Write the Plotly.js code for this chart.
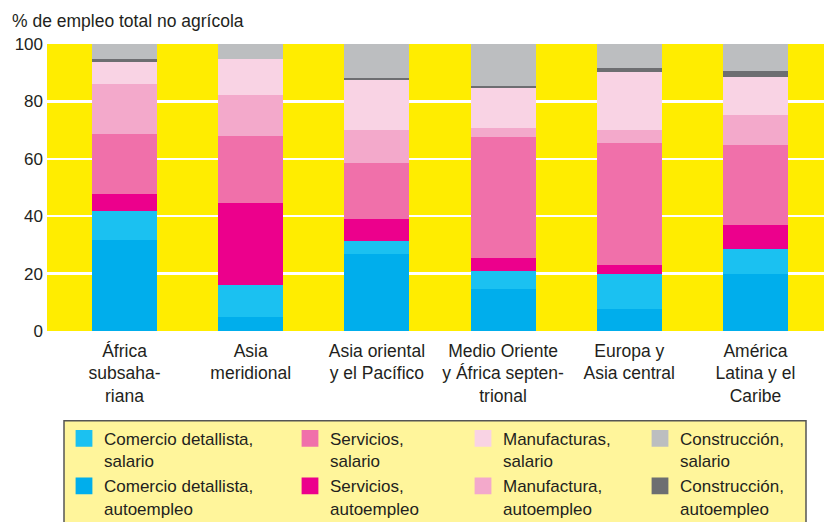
<!DOCTYPE html>
<html>
<head>
<meta charset="utf-8">
<script src="https://cdn.plot.ly/plotly-3.0.1.min.js"></script>
<style>
html,body{margin:0;padding:0;background:#fff;}
#chart{width:824px;height:522px;}
</style>
</head>
<body>
<div id="chart"></div>
<script>
// ---- data ----
const categories = [
  "África<br>subsaha-<br>riana",
  "Asia<br>meridional",
  "Asia oriental<br>y el Pacífico",
  "Medio Oriente<br>y África septen-<br>trional",
  "Europa y<br>Asia central",
  "América<br>Latina y el<br>Caribe"
];
const comercioAutoempleo     = [31.8, 4.8, 26.9, 14.7, 7.7, 19.9];
const comercioSalario        = [10.1, 11.3, 4.5, 6.2, 12.1, 8.6];
const serviciosAutoempleo    = [5.9, 28.5, 7.7, 4.5, 3.1, 8.3];
const serviciosSalario       = [21.0, 23.2, 19.6, 42.3, 42.7, 28.1];
const manufacturaAutoempleo  = [17.3, 14.6, 11.5, 3.0, 4.3, 10.2];
const manufacturasSalario    = [7.6, 12.3, 17.4, 14.0, 20.5, 13.4];
const construccionAutoempleo = [1.1, 0.0, 0.6, 0.8, 1.2, 2.2];
const construccionSalario    = [5.2, 5.3, 11.8, 14.5, 8.4, 9.3];
const yTickVals = [0, 20, 40, 60, 80, 100];
const yTickText = ["0", "20", "40", "60", "80", "100"];
const yTitle = "% de empleo total no agrícola";

const seriesNames = [
  "Comercio detallista,<br>autoempleo",
  "Comercio detallista,<br>salario",
  "Servicios,<br>autoempleo",
  "Servicios,<br>salario",
  "Manufactura,<br>autoempleo",
  "Manufacturas,<br>salario",
  "Construcción,<br>autoempleo",
  "Construcción,<br>salario"
];
const seriesValues = [comercioAutoempleo, comercioSalario, serviciosAutoempleo, serviciosSalario,
  manufacturaAutoempleo, manufacturasSalario, construccionAutoempleo, construccionSalario];

// ---- styles ----
const colors = ["#00AEEC", "#1BC1F1", "#EC008C", "#F070AA", "#F3A9CB", "#F9D3E4", "#6D6E71", "#BCBEC0"];
// legend slot per series (salario on first row, autoempleo on second)
const legendIds = ["legend5", "legend", "legend6", "legend2", "legend7", "legend3", "legend8", "legend4"];

const FONT = "'Liberation Sans', Arial, sans-serif";
const TXT = "#231F20";
const FS = 17;

const W = 824, H = 522, ML = 47, MR = 0, MT = 44, MB = 191;
const PW = W - ML - MR, PH = H - MT - MB;
const px2x = p => (p - ML) / PW;
const py2y = p => (H - MB - p) / PH;

const traces = seriesNames.map((n, i) => ({
  type: "bar",
  name: n,
  x: categories,
  y: seriesValues[i],
  marker: {color: colors[i], line: {width: 0}},
  legend: legendIds[i],
  hoverinfo: "x+y+name"
}));

const colX = [64, 290, 463, 640];
const rowY = [420.8, 468.3];
function legendAt(col, row) {
  return {
    x: px2x(colX[col]), xanchor: "left", xref: "paper",
    y: py2y(rowY[row]), yanchor: "top", yref: "paper",
    bgcolor: "rgba(0,0,0,0)", borderwidth: 0,
    orientation: "v", valign: "top",
    font: {family: FONT, size: FS, color: TXT}
  };
}

const layout = {
  width: W, height: H,
  margin: {l: ML, r: MR, t: MT, b: MB, autoexpand: false},
  paper_bgcolor: "#ffffff",
  plot_bgcolor: "#FFED00",
  barmode: "stack",
  bargap: 0.485,
  showlegend: true,
  font: {family: FONT, size: FS, color: TXT},
  title: {
    text: yTitle,
    font: {family: FONT, size: 17.5, color: TXT},
    x: 12 / W, xref: "container", xanchor: "left",
    y: 1 - 20.5 / H, yref: "container", yanchor: "middle"
  },
  xaxis: {
    type: "category",
    range: [-0.614, 5.543],
    showgrid: false, zeroline: false, showline: false,
    ticks: "", ticklabelstandoff: 7,
    tickfont: {family: FONT, size: 17.5, color: TXT},
    fixedrange: true
  },
  yaxis: {
    range: [0, 100],
    tickvals: yTickVals, ticktext: yTickText,
    showgrid: true, gridcolor: "#ffffff", gridwidth: 2.5,
    zeroline: false, showline: false, ticks: "", ticklabelstandoff: 3,
    tickfont: {family: FONT, size: FS, color: TXT},
    fixedrange: true
  },
  shapes: [{
    type: "rect", xref: "paper", yref: "paper", layer: "below",
    x0: px2x(64), x1: px2x(806), y0: py2y(420.7), y1: py2y(540),
    fillcolor: "#FFF59B", line: {color: "#555555", width: 1.5}
  }],
  legend: legendAt(0, 0),
  legend2: legendAt(1, 0),
  legend3: legendAt(2, 0),
  legend4: legendAt(3, 0),
  legend5: legendAt(0, 1),
  legend6: legendAt(1, 1),
  legend7: legendAt(2, 1),
  legend8: legendAt(3, 1)
};

Plotly.newPlot("chart", traces, layout, {displayModeBar: false, staticPlot: true}).then(gd => {
  // enlarge the legend swatches to match the reference (about 17 px squares)
  gd.querySelectorAll("g.legendpoints path").forEach(p => {
    const t = p.getAttribute("transform") || "";
    p.setAttribute("transform", (t + " scale(1.4)").trim());
  });
});
</script>
</body>
</html>
